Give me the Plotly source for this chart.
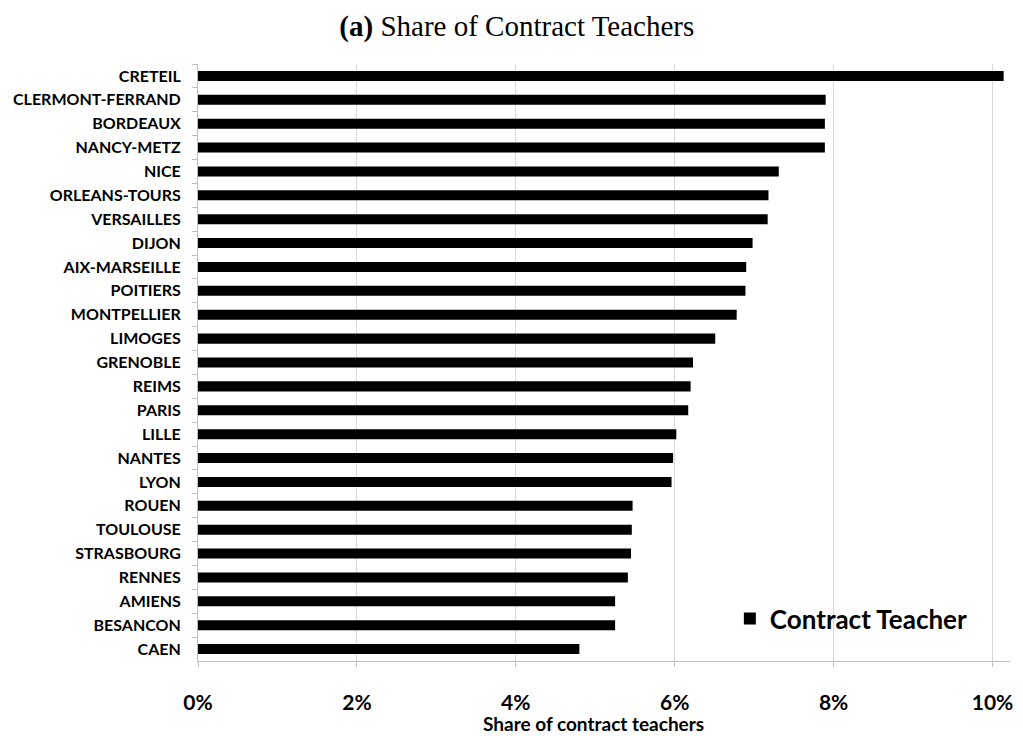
import plotly.graph_objects as go

regions = ["CRETEIL", "CLERMONT-FERRAND", "BORDEAUX", "NANCY-METZ", "NICE",
           "ORLEANS-TOURS", "VERSAILLES", "DIJON", "AIX-MARSEILLE", "POITIERS",
           "MONTPELLIER", "LIMOGES", "GRENOBLE", "REIMS", "PARIS", "LILLE",
           "NANTES", "LYON", "ROUEN", "TOULOUSE", "STRASBOURG", "RENNES",
           "AMIENS", "BESANCON", "CAEN"]
share_pct = [10.14, 7.90, 7.89, 7.89, 7.31, 7.18, 7.17, 6.98, 6.90, 6.89,
             6.78, 6.51, 6.23, 6.20, 6.17, 6.02, 5.98, 5.96, 5.47, 5.46,
             5.45, 5.41, 5.25, 5.25, 4.80]
x_ticks = [0, 2, 4, 6, 8, 10]
x_tick_labels = ["0%", "2%", "4%", "6%", "8%", "10%"]

font_sans = "Lato, 'Open Sans', sans-serif"

fig = go.Figure()
fig.add_trace(go.Bar(
    y=regions, x=share_pct, orientation="h",
    marker=dict(color="#000000", line=dict(width=0)),
    name="Contract Teacher", showlegend=True,
))

fig.update_layout(
    width=1023, height=736,
    margin=dict(l=198, r=10, t=64, b=75),
    paper_bgcolor="white", plot_bgcolor="white",
    bargap=0.58,
    title=dict(text="<b>(a)</b> Share of Contract Teachers",
               x=(518 - 198) / 815, xref="paper", xanchor="center",
               y=1 - 26 / 736, yref="container", yanchor="middle",
               font=dict(family="'Liberation Serif', 'DejaVu Serif', serif", size=29, color="#000")),
    legend=dict(x=0.655, y=0.071, xanchor="left", yanchor="middle",
                font=dict(family=font_sans, size=26, color="#000", weight="bold"),
                bgcolor="rgba(0,0,0,0)", borderwidth=0),
    font=dict(family=font_sans, color="#000"),
    annotations=[dict(
        text="<b>Share of contract teachers</b>",
        xref="paper", yref="paper", x=(595 - 198) / 815, y=(661 - 723) / 597,
        xanchor="center", yanchor="middle", showarrow=False,
        font=dict(family=font_sans, size=19, color="#000"),
    )],
)

fig.update_xaxes(
    range=[0, 10.22], tickvals=x_ticks, ticktext=x_tick_labels,
    showgrid=True, gridcolor="#d9d9d9", gridwidth=1,
    showline=True, linecolor="#bfbfbf", linewidth=1,
    ticks="outside", ticklen=5, tickcolor="#bfbfbf",
    ticklabelstandoff=18,
    tickfont=dict(family=font_sans, size=21, color="#000", weight="bold"),
    zeroline=False,
)
fig.update_yaxes(
    autorange="reversed", categoryorder="array", categoryarray=regions,
    showline=True, linecolor="#bfbfbf", linewidth=1,
    ticks="outside", ticklen=5, tickcolor="#bfbfbf", tickson="boundaries",
    ticklabelstandoff=13,
    tickfont=dict(family=font_sans, size=16, color="#000", weight="bold"),
    showgrid=False,
)

fig.write_html("out.html")
